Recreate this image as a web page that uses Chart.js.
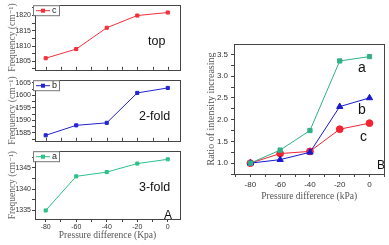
<!DOCTYPE html>
<html>
<head>
<meta charset="utf-8">
<script src="https://cdn.jsdelivr.net/npm/chart.js@4"></script>
<style>
body { margin: 0; background: #fff; width: 389px; height: 245px; position: relative; overflow: hidden; }
canvas { position: absolute; }
</style>
</head>
<body>
<canvas id="topChart" width="185" height="75" style="left:0;top:0"></canvas>
<canvas id="twoFoldChart" width="185" height="71" style="left:0;top:75px"></canvas>
<canvas id="threeFoldChart" width="185" height="99" style="left:0;top:146px"></canvas>
<canvas id="ratioChart" width="194" height="215" style="left:195px;top:30px"></canvas>
<script>
// data
const pressure = [-80, -60, -40, -20, 0];
const topFreq = [1806, 1809, 1816, 1820, 1821];
const twoFoldFreq = [1584, 1588, 1589, 1601, 1603];
const threeFoldFreq = [1335, 1343, 1344, 1346, 1347];
const ratioA = [1.0, 1.3, 1.75, 3.35, 3.45];
const ratioB = [1.0, 1.08, 1.25, 2.3, 2.5];
const ratioC = [1.0, 1.22, 1.27, 1.78, 1.92];

// tick labels
const pressureTicks = [-80, -60, -40, -20, 0];
const topTicks = [1805, 1810, 1815, 1820];
const twoFoldTicks = [1585, 1590, 1595, 1600, 1605];
const threeFoldTicks = [1335, 1340, 1345];
const ratioTicks = [1.0, 1.5, 2.0, 2.5, 3.0, 3.5];

const red = '#f0303c';
const blue = '#2424d0';
const green = '#2ec08a';
const axisColor = '#444';
const serif = '"Liberation Serif", "DejaVu Serif", serif';
const sans = '"Liberation Sans", Arial, sans-serif';

// major ticks plus a minor tick halfway, kept inside the axis range
function withMinor(major, min, max) {
    const step = (major[1] - major[0]) / 2;
    const out = [];
    for (let v = major[0] - 2 * step; v <= major[major.length - 1] + 2 * step + 1e-9; v += step) {
        const val = Math.round(v * 1000) / 1000;
        if (val >= min && val <= max) out.push({ value: val });
    }
    return out;
}

// frame, inner ticks, small legend box and text labels
const decor = {
    id: 'decor',
    afterDraw(chart, args, opts) {
        const ctx = chart.ctx;
        const a = chart.chartArea;
        ctx.save();
        ctx.strokeStyle = axisColor;
        ctx.lineWidth = 1;
        ctx.strokeRect(Math.round(a.left) + 0.5, Math.round(a.top) + 0.5, Math.round(a.right - a.left), Math.round(a.bottom - a.top));
        if (opts.innerTicks) {
            const x = chart.scales.x;
            ctx.beginPath();
            withMinor(pressureTicks, x.min, x.max).forEach(t => {
                const px = Math.round(x.getPixelForValue(t.value)) + 0.5;
                ctx.moveTo(px, a.bottom);
                ctx.lineTo(px, a.bottom - 3);
            });
            ctx.stroke();
        }
        if (opts.legend) {
            const lg = opts.legend;
            const bx = a.left - 2, by = a.top;
            ctx.fillStyle = '#fff';
            ctx.fillRect(bx, by, 26, 10);
            ctx.strokeStyle = '#777';
            ctx.strokeRect(bx + 0.5, by + 0.5, 26, 10);
            ctx.strokeStyle = lg.color;
            ctx.beginPath();
            ctx.moveTo(bx + 3, by + 5.5);
            ctx.lineTo(bx + 17, by + 5.5);
            ctx.stroke();
            ctx.fillStyle = lg.color;
            ctx.fillRect(bx + 8, by + 3.5, 4, 4);
            ctx.fillStyle = '#222';
            ctx.font = '9px ' + sans;
            ctx.textBaseline = 'middle';
            ctx.fillText(lg.text, bx + 19, by + 5.5);
        }
        (opts.labels || []).forEach(l => {
            ctx.fillStyle = '#111';
            ctx.font = l.size + 'px ' + sans;
            ctx.textBaseline = 'middle';
            ctx.textAlign = 'left';
            ctx.fillText(l.text, a.left + l.dx, a.top + l.dy);
        });
        ctx.restore();
    }
};

function leftChart(id, values, color, yMin, yMax, yTicks, legendText, tag, withAxis) {
    const labels = [{ text: tag, size: 12.5, dx: tag === 'top' ? 113 : 104, dy: 36 }];
    if (withAxis) labels.push({ text: 'A', size: 12, dx: 129, dy: 64 });
    return new Chart(document.getElementById(id), {
        type: 'line',
        data: {
            datasets: [{
                data: pressure.map((p, i) => ({ x: p, y: values[i] })),
                borderColor: color,
                backgroundColor: color,
                borderWidth: 1,
                pointStyle: 'rect',
                pointRadius: 2.2,
                pointHoverRadius: 2.2
            }]
        },
        options: {
            responsive: false,
            animation: false,
            events: [],
            layout: { padding: { left: 3, right: 5, top: id === 'topChart' ? 2 : 1, bottom: withAxis ? 0 : 2 } },
            plugins: {
                legend: { display: false },
                tooltip: { enabled: false },
                decor: { innerTicks: !withAxis, legend: { color: color, text: legendText }, labels: labels }
            },
            scales: {
                x: {
                    type: 'linear',
                    min: -87,
                    max: 8,
                    display: withAxis,
                    afterBuildTicks: s => { s.ticks = withMinor(pressureTicks, -87, 8); },
                    afterFit: s => { s.height = withAxis ? 26 : 0; },
                    grid: { drawOnChartArea: false, tickLength: 3, color: axisColor },
                    border: { color: axisColor },
                    ticks: {
                        padding: 1,
                        autoSkip: false,
                        maxRotation: 0,
                        color: '#333',
                        font: { size: 7, family: sans },
                        callback: v => pressureTicks.includes(v) ? v : ''
                    },
                    title: {
                        display: true,
                        text: 'Pressure difference (Kpa)',
                        color: '#555',
                        font: { size: 9.5, family: serif }
                    }
                },
                y: {
                    min: yMin,
                    max: yMax,
                    afterBuildTicks: s => { s.ticks = withMinor(yTicks, yMin, yMax); },
                    afterFit: s => { s.width = 32; },
                    grid: { drawOnChartArea: false, tickLength: 3, color: axisColor },
                    border: { color: axisColor },
                    ticks: {
                        padding: 1,
                        autoSkip: false,
                        color: '#333',
                        font: { size: 7, family: sans },
                        callback: v => yTicks.includes(v) ? v : ''
                    },
                    title: {
                        display: true,
                        text: 'Frequency (cm⁻¹)',
                        color: '#666',
                        font: { size: 9.5, family: serif }
                    }
                }
            }
        },
        plugins: [decor]
    });
}

leftChart('topChart', topFreq, red, 1802.2, 1823.4, topTicks, 'c', 'top', false);
leftChart('twoFoldChart', twoFoldFreq, blue, 1581.8, 1606.1, twoFoldTicks, 'b', '2-fold', false);
leftChart('threeFoldChart', threeFoldFreq, green, 1333, 1348.9, threeFoldTicks, 'a', '3-fold', true);

function series(values, color, style, radius) {
    return {
        data: pressure.map((p, i) => ({ x: p, y: values[i] })),
        borderColor: color,
        backgroundColor: color,
        borderWidth: 1,
        pointStyle: style,
        pointRadius: radius,
        pointHoverRadius: radius
    };
}

new Chart(document.getElementById('ratioChart'), {
    type: 'line',
    data: {
        datasets: [
            series(ratioA, '#30b088', 'rect', 3),
            series(ratioB, '#1818cc', 'triangle', 3.6),
            series(ratioC, '#f02434', 'circle', 3.4)
        ]
    },
    options: {
        responsive: false,
        animation: false,
        events: [],
        layout: { padding: { left: 6, right: 1, top: 14, bottom: 39 } },
        plugins: {
            legend: { display: false },
            tooltip: { enabled: false },
            decor: {
                labels: [
                    { text: 'a', size: 14, dx: 124, dy: 24 },
                    { text: 'b', size: 14, dx: 124, dy: 66 },
                    { text: 'c', size: 14, dx: 126, dy: 93 },
                    { text: 'B', size: 12, dx: 143, dy: 122 }
                ]
            }
        },
        scales: {
            x: {
                type: 'linear',
                min: -91,
                max: 10,
                afterBuildTicks: s => { s.ticks = withMinor(pressureTicks, -91, 10); },
                afterFit: s => { s.height = 32; },
                grid: { drawOnChartArea: false, tickLength: 3, color: axisColor },
                border: { color: axisColor },
                ticks: {
                    padding: 3,
                    autoSkip: false,
                    maxRotation: 0,
                    color: '#333',
                    font: { size: 8, family: sans },
                    callback: v => pressureTicks.includes(v) ? v : ''
                },
                title: {
                    display: true,
                    text: 'Pressure difference (kPa)',
                    color: '#555',
                    font: { size: 9.5, family: serif }
                }
            },
            y: {
                min: 0.75,
                max: 3.74,
                afterBuildTicks: s => { s.ticks = withMinor(ratioTicks, 0.75, 3.74); },
                afterFit: s => { s.width = 33; },
                grid: { drawOnChartArea: false, tickLength: 3, color: axisColor },
                border: { color: axisColor },
                ticks: {
                    padding: 3,
                    autoSkip: false,
                    color: '#333',
                    font: { size: 8, family: sans },
                    callback: v => ratioTicks.includes(v) ? v.toFixed(1) : ''
                },
                title: {
                    display: true,
                    text: 'Ratio of intensity increasing',
                    color: '#555',
                    font: { size: 10, family: serif }
                }
            }
        }
    },
    plugins: [decor]
});
</script>
</body>
</html>
